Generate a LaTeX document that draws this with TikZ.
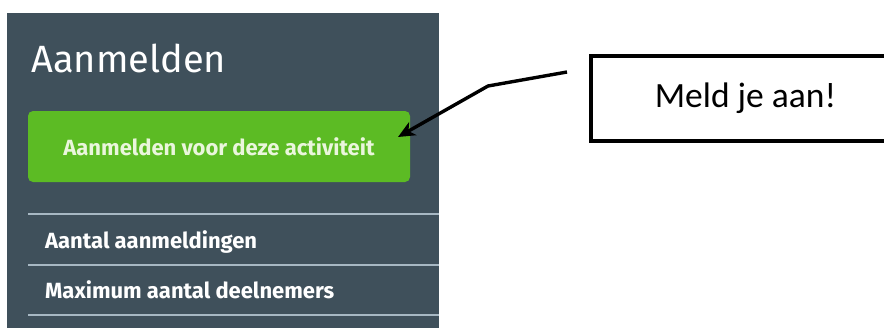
\documentclass[tikz,border=0pt]{standalone}
\usepackage{fontspec}
\setmainfont{Fira Sans}
\newfontfamily\calloutfont{Carlito}
\usetikzlibrary{arrows.meta}
\definecolor{panelgrey}{HTML}{3F505B}
\definecolor{btngreen}{HTML}{5CBB24}
\definecolor{btntext}{HTML}{EAF6DC}
\definecolor{rulegrey}{HTML}{A7B8C3}
\tikzset{
  title/.style = {anchor=base west, text=white, font=\fontsize{38}{40}\selectfont},
  button/.style = {rectangle, rounded corners=5pt, fill=btngreen, minimum width=382pt, minimum height=71pt, text=btntext, font=\bfseries\fontsize{22}{24}\selectfont},
  info/.style = {anchor=base west, text=white, font=\bfseries\fontsize{22}{24}\selectfont, inner sep=0pt},
  callout/.style = {rectangle, draw=black, line width=3.6pt, minimum width=309pt, minimum height=85pt, font=\calloutfont\fontsize{35.5}{38}\selectfont},
  arrow/.style = {line width=3.4pt, -{Stealth[length=17pt,width=15pt,inset=5pt]}}
}

\begin{document}
\begin{tikzpicture}[x=1pt,y=-1pt]
\useasboundingbox (0,0) rectangle (884,327);
% panel
\fill [panelgrey] (7,13) rectangle (439,330);
\node (head) [title] at (28,72) {Aanmelden};
\node (btn) [button] at (219,146.5) {Aanmelden voor deze activiteit};

% rules and rows
\draw [rulegrey, line width=2.2pt] (28,214) -- (439,214);
\node (count) [info] at (45,248) {Aantal aanmeldingen};
\draw [rulegrey, line width=2.2pt] (28,265) -- (439,265);
\node (max) [info] at (45,298) {Maximum aantal deelnemers};
\draw [rulegrey, line width=2.2pt] (28,315) -- (439,315);

% callout
\node (note) [callout] at (745.5,98.5) {Meld je aan!};
\coordinate (tail) at (567,72);
\coordinate (bend) at (488,86);
\coordinate (tip) at (398,137);
\draw [arrow] (tail) -- (bend) -- (tip);
\end{tikzpicture}
\end{document}
